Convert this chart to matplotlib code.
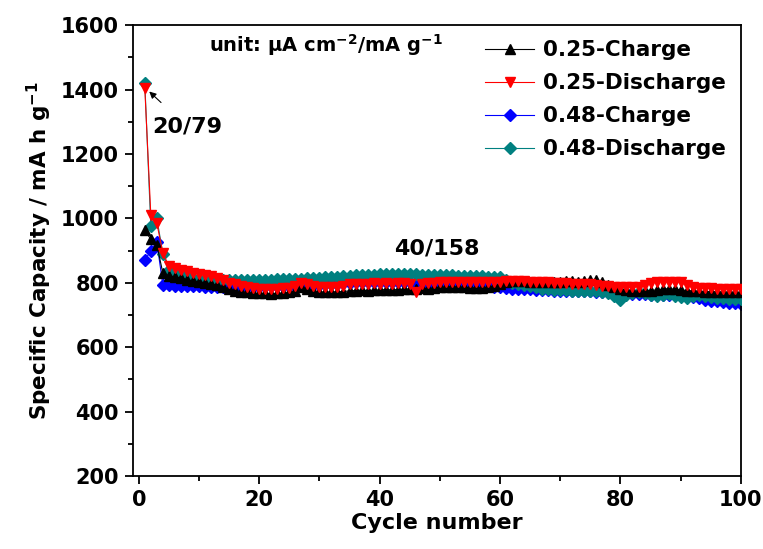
import matplotlib.pyplot as plt
import numpy as np
from matplotlib.ticker import MultipleLocator

plt.rcParams['font.family'] = ['DejaVu Sans']
plt.rcParams['font.weight'] = 'bold'
plt.rcParams['mathtext.default'] = 'bf'

cycles = np.arange(1, 101)

# 0.25 mA cm-2 charge
charge_025 = [963, 935, 918, 830, 822, 818, 815, 810, 806, 803,
              800, 797, 792, 786, 780, 776, 773, 770, 768, 767,
              767, 766, 767, 768, 770, 776, 786, 782, 776, 772,
              771, 772, 772, 773, 775, 776, 777, 776, 777, 778,
              779, 778, 779, 780, 781, 782, 783, 782, 784, 786,
              787, 788, 787, 786, 785, 784, 785, 786, 790, 795,
              802, 805, 806, 805, 804, 803, 803, 802, 801, 804,
              807, 805, 803, 807, 809, 810, 803, 794, 788, 782,
              778, 775, 774, 775, 776, 778, 780, 782, 780, 778,
              776, 775, 774, 773, 773, 772, 772, 771, 771, 770]

# 0.25 mA cm-2 discharge
discharge_025 = [1405, 1010, 985, 893, 852, 845, 840, 836, 832, 828,
                 824, 820, 815, 808, 800, 795, 790, 786, 783, 782,
                 781, 781, 782, 783, 785, 790, 800, 797, 790, 787,
                 786, 787, 788, 790, 795, 796, 797, 796, 798, 797,
                 798, 797, 798, 799, 796, 772, 796, 798, 800, 802,
                 803, 804, 804, 803, 803, 804, 804, 803, 803, 804,
                 805, 806, 806, 805, 804, 803, 802, 801, 800, 799,
                 798, 797, 796, 796, 795, 793, 791, 789, 788, 787,
                 786, 786, 788, 792, 800, 803, 804, 803, 804, 802,
                 792, 786, 784, 783, 783, 782, 782, 782, 782, 782]

# 0.48 mA cm-2 charge
charge_048 = [870, 900, 926, 793, 792, 791, 790, 790, 789, 789,
              788, 788, 787, 786, 786, 786, 787, 787, 788, 788,
              789, 789, 790, 790, 791, 791, 792, 793, 793, 794,
              795, 796, 797, 798, 800, 801, 802, 803, 803, 804,
              804, 803, 803, 803, 802, 800, 798, 797, 796, 795,
              794, 793, 792, 791, 790, 790, 789, 789, 788, 787,
              784, 782, 781, 780, 780, 779, 778, 777, 776, 776,
              775, 775, 774, 774, 774, 773, 772, 771, 770, 768,
              767, 766, 765, 764, 763, 763, 762, 761, 761, 760,
              758, 755, 752, 748, 745, 742, 740, 738, 736, 735]

# 0.48 mA cm-2 discharge
discharge_048 = [1420, 975, 1000, 890, 840, 832, 826, 820, 816, 813,
                 811, 809, 808, 808, 808, 809, 810, 809, 808, 808,
                 809, 810, 811, 811, 812, 812, 813, 814, 815, 816,
                 817, 818, 819, 820, 822, 823, 824, 825, 825, 826,
                 826, 826, 826, 826, 826, 826, 825, 825, 825, 824,
                 824, 823, 822, 822, 821, 820, 820, 819, 818, 817,
                 810, 800, 795, 792, 790, 786, 782, 780, 778, 777,
                 777, 776, 776, 775, 775, 774, 772, 768, 760, 748,
                 762, 768, 770, 768, 762, 760, 762, 765, 760, 755,
                 752, 758, 762, 758, 755, 752, 752, 751, 751, 750]

fig = plt.figure(figsize=(7.63, 5.49), dpi=100)
ax = fig.add_axes([0.174, 0.133, 0.797, 0.821])

ax.plot(cycles, charge_048, color='#0000ff', marker='D', markersize=6.5, lw=0.8,
        label='0.48-Charge', zorder=2)
ax.plot(cycles, discharge_048, color='#008080', marker='D', markersize=6.5, lw=0.8,
        label='0.48-Discharge', zorder=3)
ax.plot(cycles, charge_025, color='black', marker='^', markersize=7.5, lw=0.8,
        label='0.25-Charge', zorder=4)
ax.plot(cycles, discharge_025, color='red', marker='v', markersize=7.5, lw=0.8,
        label='0.25-Discharge', zorder=5)

ax.set_xlim(-1, 100)
ax.set_ylim(200, 1600)
ax.xaxis.set_major_locator(MultipleLocator(20))
ax.xaxis.set_minor_locator(MultipleLocator(10))
ax.yaxis.set_major_locator(MultipleLocator(200))
ax.yaxis.set_minor_locator(MultipleLocator(100))
ax.tick_params(which='major', direction='out', length=6, width=1.3, labelsize=15,
               top=False, right=False, pad=4)
ax.tick_params(which='minor', direction='out', length=3.5, width=1.3,
               top=False, right=False)
for lab in ax.get_xticklabels() + ax.get_yticklabels():
    lab.set_fontweight('bold')
for sp in ax.spines.values():
    sp.set_linewidth(1.3)

ax.set_xlabel('Cycle number', fontsize=16, fontweight='bold', labelpad=2)
ax.set_ylabel('Specific Capacity / mA h g$^{-1}$', fontsize=15.5, fontweight='bold',
              labelpad=5)

# legend in the same order as the original
h, l = ax.get_legend_handles_labels()
order = [2, 3, 0, 1]
ax.legend([h[i] for i in order], [l[i] for i in order], loc='upper right',
          frameon=False, prop={'weight': 'bold', 'size': 15.5},
          handlelength=2.3, handletextpad=0.4, labelspacing=0.6,
          borderaxespad=0.3, bbox_to_anchor=(1.0, 1.0))

ax.text(31, 1540, 'unit: \u03bcA cm$^{-2}$/mA g$^{-1}$', fontsize=14,
        fontweight='bold', ha='center', va='center')
ax.annotate('20/79', xy=(1.4, 1400), xytext=(8, 1285), fontsize=16,
            fontweight='bold', ha='center', va='center',
            arrowprops=dict(arrowstyle='-|>', color='black', lw=0.8,
                            shrinkA=12, shrinkB=2, mutation_scale=10))
ax.text(49.5, 908, '40/158', fontsize=16, fontweight='bold',
        ha='center', va='center')

fig.savefig('out.png', dpi=100)
